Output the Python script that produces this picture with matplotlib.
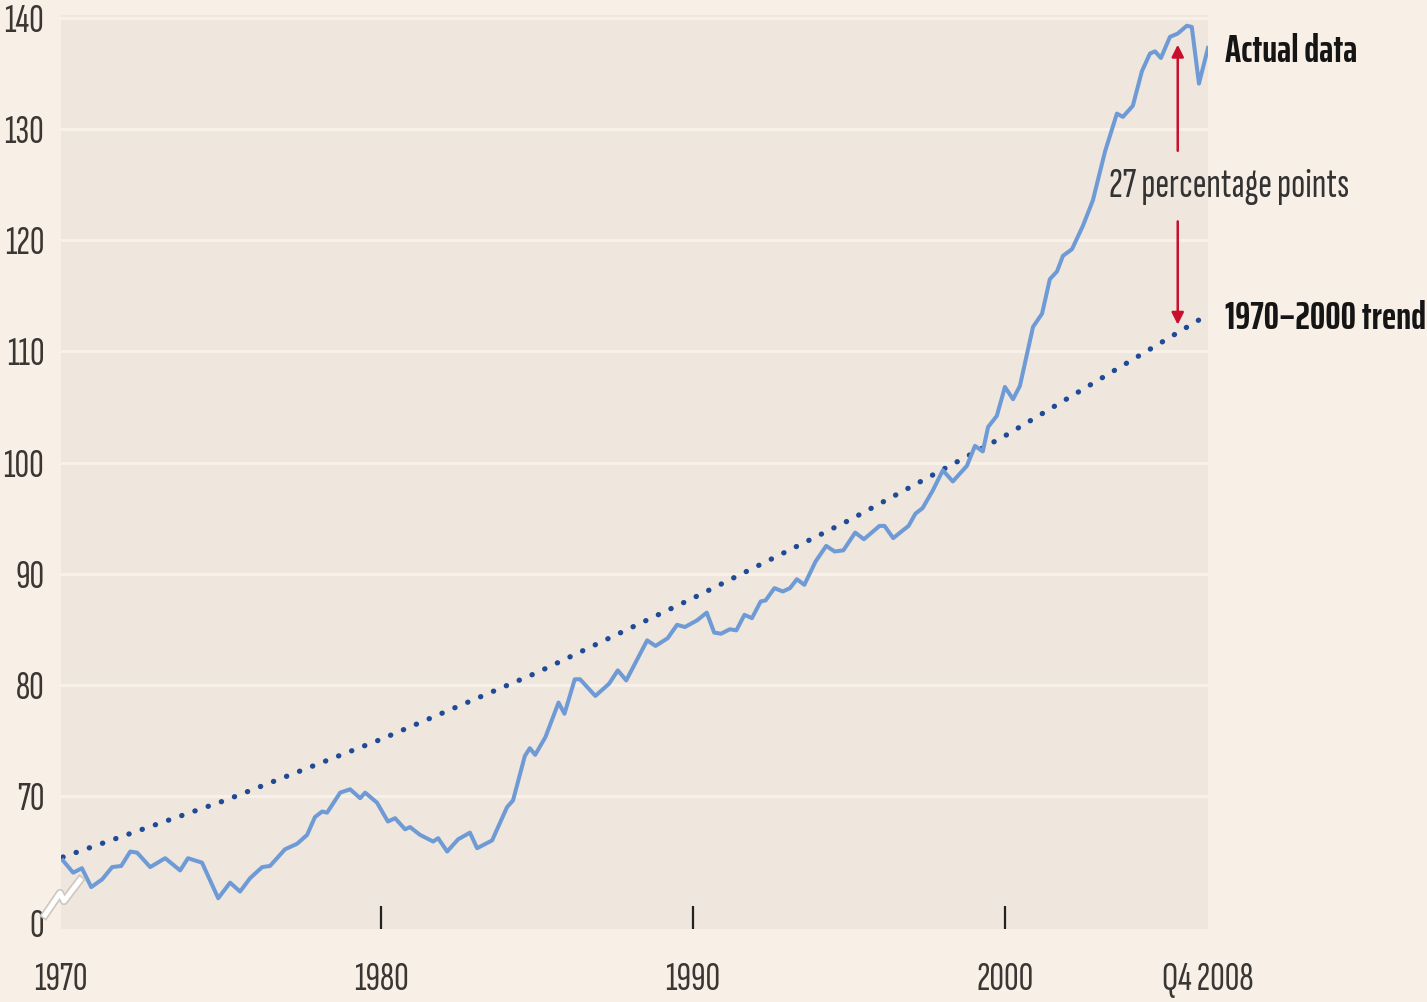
import matplotlib.pyplot as plt

# house price index readings (x in years, y in index points)
years = [1969.80, 1970.13, 1970.41, 1970.71, 1971.06, 1971.38, 1971.67, 1971.96, 1972.18, 1972.60,
         1973.08, 1973.56, 1973.81, 1974.26, 1974.78, 1975.16, 1975.48, 1975.80, 1976.19, 1976.44,
         1976.92, 1977.31, 1977.63, 1977.88, 1978.11, 1978.27, 1978.69, 1979.01, 1979.33, 1979.49,
         1979.87, 1980.22, 1980.45, 1980.77, 1980.93, 1981.25, 1981.67, 1981.83, 1982.12, 1982.47,
         1982.85, 1983.08, 1983.56, 1984.04, 1984.23, 1984.61, 1984.77, 1984.94, 1985.27, 1985.69,
         1985.88, 1986.21, 1986.38, 1986.87, 1987.31, 1987.59, 1987.86, 1988.53, 1988.80, 1989.19,
         1989.49, 1989.74, 1990.13, 1990.44, 1990.68, 1990.90, 1991.18, 1991.39, 1991.65, 1991.89,
         1992.17, 1992.33, 1992.61, 1992.88, 1993.11, 1993.33, 1993.57, 1993.93, 1994.27, 1994.54,
         1994.82, 1995.20, 1995.48, 1995.98, 1996.14, 1996.42, 1996.64, 1996.91, 1997.13, 1997.36,
         1997.69, 1998.01, 1998.33, 1998.78, 1999.04, 1999.29, 1999.46, 1999.74, 2000.00, 2000.26,
         2000.48, 2000.90, 2001.19, 2001.44, 2001.67, 2001.86, 2002.15, 2002.50, 2002.82, 2003.21,
         2003.59, 2003.78, 2004.10, 2004.39, 2004.65, 2004.81, 2005.00, 2005.29, 2005.54, 2005.83,
         2005.99, 2006.22, 2006.51]
values = [64.2, 63.1, 63.5, 61.8, 62.5, 63.6, 63.7, 65.0, 64.9, 63.6,
          64.4, 63.3, 64.4, 64.0, 60.8, 62.2, 61.4, 62.6, 63.6, 63.7,
          65.2, 65.7, 66.5, 68.1, 68.6, 68.5, 70.3, 70.6, 69.8, 70.3,
          69.4, 67.7, 68.0, 67.0, 67.2, 66.5, 65.9, 66.2, 65.0, 66.1,
          66.7, 65.3, 66.0, 69.0, 69.6, 73.6, 74.3, 73.7, 75.3, 78.4,
          77.4, 80.5, 80.5, 79.0, 80.1, 81.3, 80.4, 84.0, 83.5, 84.2,
          85.4, 85.2, 85.8, 86.5, 84.7, 84.6, 85.0, 84.9, 86.3, 86.0,
          87.5, 87.6, 88.7, 88.4, 88.7, 89.5, 89.0, 91.1, 92.5, 92.0,
          92.1, 93.7, 93.1, 94.3, 94.3, 93.2, 93.7, 94.3, 95.4, 95.9,
          97.5, 99.3, 98.3, 99.7, 101.5, 101.0, 103.2, 104.2, 106.8, 105.7,
          106.9, 112.2, 113.4, 116.5, 117.2, 118.6, 119.2, 121.3, 123.6, 128.0,
          131.4, 131.1, 132.1, 135.2, 136.8, 137.0, 136.4, 138.3, 138.6, 139.3,
          139.2, 134.1, 137.3]

trend_years = [1969.8, 1975, 1980, 1985, 1990, 1995, 2000, 2006.5]
trend_values = [64.5, 69.6, 75.1, 81.1, 87.8, 94.8, 102.4, 113.3]

grid_values = [70, 80, 90, 100, 110, 120, 130, 140]
ytick_pos = [58.6] + grid_values
ytick_labels = ["0"] + [str(v) for v in grid_values]

plt.rcParams['font.family'] = ['Sofia Sans Extra Condensed', 'DejaVu Sans']
bold_family = ['Saira ExtraCondensed', 'DejaVu Sans']
label_color = '#3a3633'

fig = plt.figure(figsize=(14.27, 10.02), dpi=100)
fig.patch.set_facecolor('#f8f0e7')
ax = fig.add_axes([61 / 1427, 73 / 1002, 1147 / 1427, 914 / 1002])
ax.set_facecolor('#efe6dd')
for s in ax.spines.values():
    s.set_visible(False)

ax.set_xlim(1969.74, 2006.51)
ax.set_ylim(58.03, 140.27)

for g in grid_values:
    ax.axhline(g, color='#f8f1e9', lw=2.2, zorder=1)

ax.plot(trend_years, trend_values, color='#1f4b96', lw=3.8,
        linestyle=(0, (0.05, 2.6)), dash_capstyle='round', zorder=3)
ax.plot(years, values, color='#6e9bd5', lw=2.9, solid_joinstyle='round', zorder=4)

# y axis
ax.set_yticks(ytick_pos)
ax.set_yticklabels(ytick_labels)
ax.tick_params(axis='y', length=0, pad=12, labelsize=29, labelcolor=label_color)

# x axis: inside marks for the decades, edge labels without marks
ax.set_xticks([1980, 1990, 2000])
ax.set_xticklabels(["1980", "1990", "2000"])
ax.set_xticks([1969.74, 2006.51], minor=True)
ax.set_xticklabels(["1970", "Q4 2008"], minor=True)
ax.tick_params(axis='x', which='major', direction='in', length=16.5, width=1.6,
               color='#222222', pad=24, labelsize=29, labelcolor=label_color)
ax.tick_params(axis='x', which='minor', length=0, pad=24, labelsize=29, labelcolor=label_color)

# gap arrows
arrow_x = 2005.54
ax.annotate('', xy=(arrow_x, 137.6), xytext=(arrow_x, 128.05),
            arrowprops=dict(arrowstyle='-|>', color='#c8102e', lw=1.8,
                            mutation_scale=18, shrinkA=0, shrinkB=0), zorder=5)
ax.annotate('', xy=(arrow_x, 112.4), xytext=(arrow_x, 121.7),
            arrowprops=dict(arrowstyle='-|>', color='#c8102e', lw=1.8,
                            mutation_scale=18, shrinkA=0, shrinkB=0), zorder=5)

ax.text(2007.18, 124.8, "27 percentage points", ha='center', va='center',
        fontsize=30, color='#333333', zorder=6)
ax.text(2007.05, 136.97, "Actual data", ha='left', va='center',
        fontsize=27.5, fontweight=700, family=bold_family, color='#151515')
ax.text(2007.05, 113.0, "1970\u20132000 trend", ha='left', va='center',
        fontsize=27.5, fontweight=700, family=bold_family, color='#151515')

# axis break mark
zx = [45 / 1427, 60 / 1427, 64 / 1427, 80 / 1427]
zy = [1 - 915 / 1002, 1 - 893 / 1002, 1 - 901 / 1002, 1 - 880 / 1002]
fig.add_artist(plt.Line2D(zx, zy, color='#cfc8c0', lw=6, transform=fig.transFigure))
fig.add_artist(plt.Line2D(zx, zy, color='#ffffff', lw=3.5, transform=fig.transFigure))

fig.savefig("out.png", dpi=100, facecolor=fig.get_facecolor())
